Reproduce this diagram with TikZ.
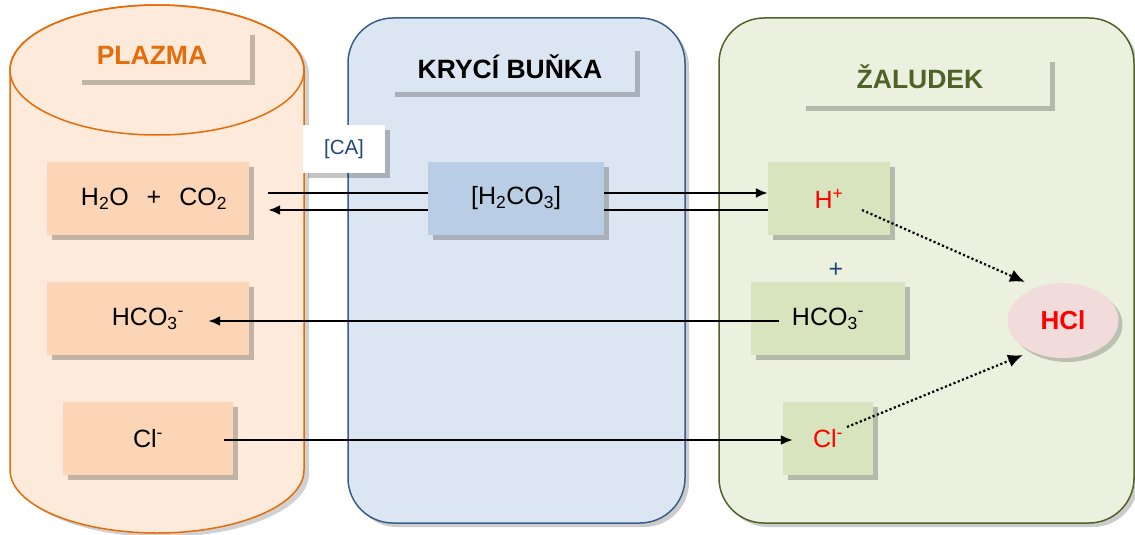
\documentclass[tikz,border=0pt]{standalone}
\usepackage{fontspec}
\setmainfont{Liberation Sans}
\usetikzlibrary{shadows,arrows.meta,shapes.geometric}

\definecolor{plasmaFill}{HTML}{FDEADA}
\definecolor{plasmaLine}{HTML}{E46C0A}
\definecolor{plasmaBox}{HTML}{FBD5B5}
\definecolor{cellFill}{HTML}{DCE6F2}
\definecolor{cellLine}{HTML}{385D8A}
\definecolor{cellBox}{HTML}{B9CDE5}
\definecolor{stomFill}{HTML}{EBF1DE}
\definecolor{stomLine}{HTML}{4F6228}
\definecolor{stomBox}{HTML}{D7E4BD}
\definecolor{hclFill}{HTML}{F2DCDB}
\definecolor{navy}{HTML}{1F497D}
\definecolor{ionRed}{HTML}{FF0000}

\begin{document}
\begin{tikzpicture}[x=1pt,y=-1pt,
  shade5/.style={general shadow={fill=black,opacity=.23,shadow xshift=5pt,shadow yshift=-5pt}},
  shade4/.style={general shadow={fill=black,opacity=.2,shadow xshift=4pt,shadow yshift=-4pt}},
  txt/.style={font=\fontsize{25}{29}\selectfont},
  box/.style={rectangle,inner sep=0pt,shade5,txt},
  titlebox/.style={rectangle,inner sep=0pt,shade5},
  titletext/.style={font=\bfseries\fontsize{26.5}{31}\selectfont},
  container/.style={rectangle,rounded corners=45pt,line width=1.5pt,shade4,inner sep=0pt,
                    minimum height=505pt},
  link/.style={line width=2.2pt},
  arr/.style={line width=2.2pt,-{Latex[length=12pt,width=10pt]}},
  dotarr/.style={line width=2.2pt,dash pattern=on 2.2pt off 2.4pt,-{Latex[length=15pt,width=13pt]}}
]
\useasboundingbox (0,0) rectangle (1135,535);

% plasma cylinder: shadow, body, top rim
\fill[black,opacity=.18] (15,74) -- (15,474) arc[start angle=180,end angle=0,x radius=147,y radius=63]
      -- (309,74) arc[start angle=0,end angle=-180,x radius=147,y radius=65] -- cycle;
\filldraw[fill=plasmaFill,draw=plasmaLine,line width=1.5pt]
      (10,70) -- (10,470) arc[start angle=180,end angle=0,x radius=147,y radius=63]
      -- (304,70) arc[start angle=0,end angle=-180,x radius=147,y radius=65] -- cycle;
\draw[plasmaLine,line width=1.5pt] (157,70) ellipse[x radius=147,y radius=65];

% parietal cell and stomach
\node[container,draw=cellLine,fill=cellFill,minimum width=337pt] (cell) at (516.5,270.5) {};
\node[container,draw=stomLine,fill=stomFill,minimum width=415pt] (stomach) at (926.5,270.5) {};

% titles
\node[titlebox,fill=plasmaFill,minimum width=173pt,minimum height=50pt] (plazmaBox) at (163.5,55) {};
\node[titletext,text=plasmaLine] (plazma) at (152,55) {PLAZMA};
\node[titlebox,fill=cellFill,minimum width=245pt,minimum height=46pt] (cellBoxT) at (512.5,69) {};
\node[titletext] (cellTitle) at (510,67) {KRYCÍ BUŇKA};
\node[titlebox,fill=stomFill,minimum width=249pt,minimum height=49pt] (stomBoxT) at (925.5,81.5) {};
\node[titletext,text=stomLine] (stomTitle) at (920,77) {ŽALUDEK};

% plasma species
\node[box,fill=plasmaBox,minimum width=202pt,minimum height=73pt] (h2o) at (148,198.5)
  {\hspace*{12pt}H\textsubscript{2}O\hspace{18pt}+\hspace{18pt}CO\textsubscript{2}};
\node[box,fill=plasmaBox,minimum width=202pt,minimum height=73pt] (hco3p) at (148,318.5)
  {HCO\textsubscript{3}\textsuperscript{-}};
\node[box,fill=plasmaBox,minimum width=170pt,minimum height=73pt] (clp) at (148,438.5)
  {Cl\textsuperscript{-}};

% cell species
\node[box,fill=white,minimum width=82pt,minimum height=48pt,text=navy,
      font=\fontsize{20.5}{24}\selectfont] (ca) at (344,149) {[CA]};
\node[box,fill=cellBox,minimum width=176pt,minimum height=73pt] (h2co3) at (516,198.5)
  {[H\textsubscript{2}CO\textsubscript{3}]};

% stomach species
\node[box,fill=stomBox,minimum width=122pt,minimum height=73pt,text=ionRed] (hplus) at (829,198.5)
  {H\textsuperscript{+}};
\node[text=navy,font=\fontsize{25}{29}\selectfont] (plus) at (836,270) {+};
\node[box,fill=stomBox,minimum width=154pt,minimum height=73pt] (hco3s) at (828,318.5)
  {HCO\textsubscript{3}\textsuperscript{-}};
\node[box,fill=stomBox,minimum width=90pt,minimum height=73pt,text=ionRed] (cls) at (828,438.5)
  {Cl\textsuperscript{-}};
\node[ellipse,inner sep=0pt,minimum width=111pt,minimum height=75pt,fill=hclFill,shade4,
      text=ionRed,font=\bfseries\fontsize{26}{30}\selectfont] (hcl) at (1063,320.5) {HCl};

% exchanges
\draw[link] ([xshift=19pt,yshift=5.5pt]h2o.east) -- ([yshift=5.5pt]h2co3.west);
\draw[arr] ([yshift=-11.5pt]h2co3.west) -- ([xshift=19pt,yshift=-11.5pt]h2o.east);
\draw[arr] ([yshift=5.5pt]h2co3.east) -- ([yshift=5.5pt]hplus.west);
\draw[link] ([yshift=-11.5pt]h2co3.east) -- ([yshift=-11.5pt]hplus.west);
\draw[arr] ([xshift=28pt,yshift=-2.5pt]hco3s.west) -- ([xshift=-41pt,yshift=-2.5pt]hco3p.east);
\draw[arr] ([xshift=-9pt,yshift=-1.5pt]clp.east) -- ([xshift=10pt,yshift=-1.5pt]cls.west);
\draw[dotarr] ([xshift=33pt,yshift=-11.5pt]hplus.center) -- ([xshift=-38pt,yshift=38.5pt]hcl.center);
\draw[dotarr] ([xshift=19pt,yshift=11.5pt]cls.center) -- ([xshift=-40pt,yshift=-34.5pt]hcl.center);
\end{tikzpicture}
\end{document}
